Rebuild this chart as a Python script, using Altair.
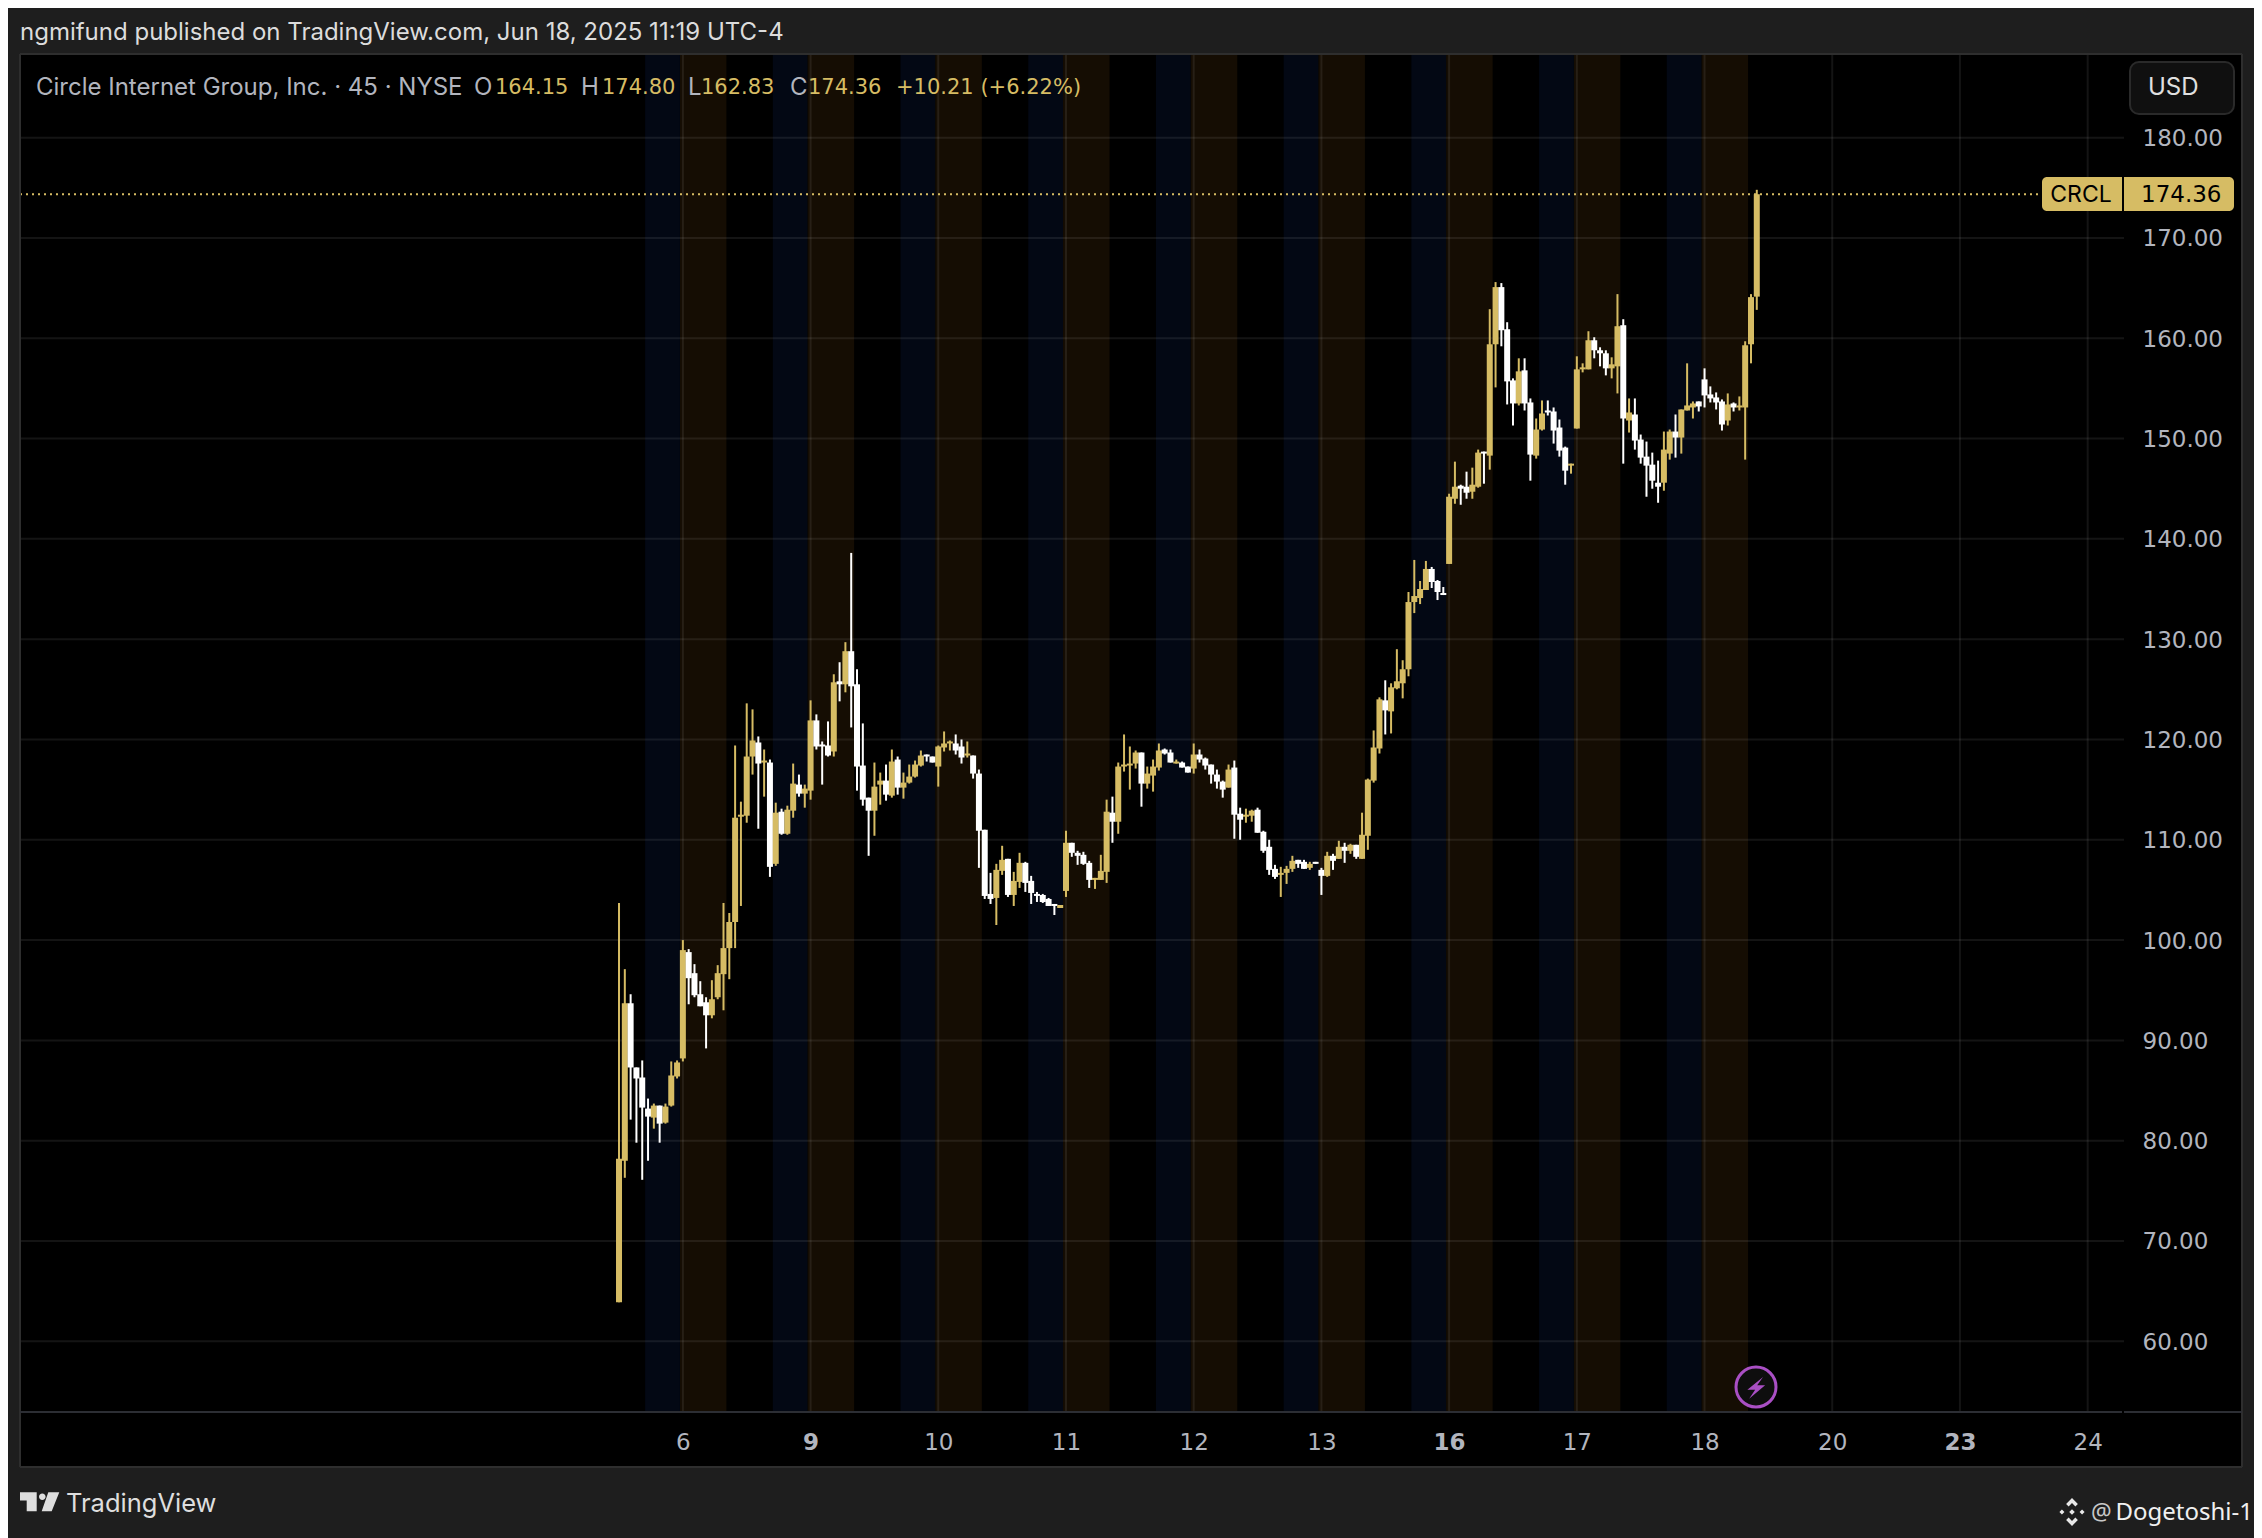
import altair as alt
import pandas as pd

opens = [63.9,78.0,93.7,87.3,86.3,83.2,82.3,83.5,81.8,83.5,86.4,88.2,98.8,96.7,94.6,93.8,92.5,94.3,96.6,99.2,
101.8,112.3,112.4,118.3,119.7,117.7,117.7,107.6,112.8,110.6,112.9,115.5,114.6,114.9,121.9,119.5,119.4,118.8,125.8,125.5,
128.8,125.5,117.4,114.2,112.9,115.5,115.9,114.4,118.0,115.2,115.7,116.3,117.4,118.5,118.3,117.3,119.2,119.6,119.6,119.3,
118.4,118.4,116.6,111.0,104.6,104.2,106.9,108.1,104.5,105.8,107.7,105.9,104.6,104.5,104.1,103.6,103.2,104.9,109.7,108.7,
108.5,107.7,106.0,106.0,106.8,112.7,111.8,117.3,117.4,117.6,118.7,115.6,116.4,117.2,119.0,118.7,117.6,117.7,117.3,117.1,
118.5,118.1,117.5,116.5,115.8,115.2,117.2,112.6,112.3,112.4,113.0,110.8,109.3,107.1,106.5,106.7,107.1,108.0,107.8,107.2,
107.8,107.0,106.4,108.4,108.1,109.3,108.9,109.5,108.1,110.4,115.9,119.1,123.9,122.8,125.1,125.6,127.0,133.7,134.1,134.9,
137.0,135.8,134.6,137.5,144.0,145.3,145.2,144.7,145.2,148.7,148.3,159.4,165.1,160.9,155.8,153.5,156.8,153.6,148.3,150.9,
152.8,152.7,151.1,149.1,147.3,151.0,156.9,156.9,159.8,158.8,158.5,157.0,157.2,161.3,151.8,152.4,149.9,148.2,147.4,145.6,
145.6,148.5,150.7,150.1,152.8,153.1,153.7,155.9,154.4,154.1,153.7,151.8,153.5,153.1,153.1,159.4,164.15]
highs = [103.7,97.1,94.6,87.3,88.0,84.2,83.7,83.5,83.7,87.9,88.0,100.0,99.1,97.6,95.9,94.3,96.0,97.5,103.7,102.7,
119.4,113.8,123.6,123.0,120.3,119.0,118.0,113.7,113.1,113.4,117.6,116.5,115.5,123.9,122.5,119.8,121.8,126.5,127.7,129.7,
138.6,127.0,121.6,114.2,117.7,116.7,117.5,119.0,118.3,116.7,117.5,117.9,118.9,118.5,118.3,119.4,120.8,119.9,120.5,120.0,
119.8,118.4,117.0,111.0,106.7,107.6,109.4,108.1,106.8,108.7,107.8,106.4,104.8,104.6,104.2,103.6,103.5,110.9,109.7,108.9,
108.8,107.9,106.2,108.5,114.0,114.3,117.7,120.5,119.3,118.9,118.7,117.3,118.0,119.6,119.1,119.0,118.0,117.8,117.3,119.6,
119.0,118.2,117.5,117.0,115.9,117.5,117.9,113.2,113.1,113.0,113.2,110.9,110.0,107.5,107.3,107.4,108.4,108.0,108.0,107.8,
107.8,107.2,108.8,108.6,109.9,109.7,109.6,109.5,112.7,116.1,120.9,124.2,125.9,125.6,129.0,127.9,134.7,137.9,135.8,137.8,
137.2,135.9,135.2,144.5,147.7,145.4,146.7,147.1,148.9,148.7,162.9,165.6,165.5,161.6,156.0,158.0,158.0,154.0,152.0,153.8,
153.8,153.1,151.9,149.2,147.5,158.2,157.5,160.7,160.1,159.1,158.8,158.1,164.4,161.9,154.0,154.0,150.4,149.7,148.6,147.8,
150.7,150.9,152.4,152.9,157.5,153.7,153.7,157.0,155.2,154.6,153.9,154.5,153.6,154.2,159.7,164.4,174.80]
lows = [63.9,76.3,82.1,79.8,76.1,78.0,81.2,79.8,81.7,83.4,86.2,87.9,93.6,94.3,93.4,89.2,92.2,94.1,93.0,96.1,
99.2,103.4,111.7,116.5,111.1,114.3,106.3,107.4,110.5,110.5,112.2,114.3,113.2,114.0,119.0,115.5,118.3,118.3,123.8,124.7,
121.2,114.9,113.4,108.4,110.4,113.5,113.9,114.2,114.5,114.1,115.6,116.2,117.3,117.8,117.7,115.3,118.8,118.9,118.5,117.6,
118.2,116.1,107.2,104.1,103.6,101.5,106.5,104.3,103.4,105.2,104.8,103.6,103.8,103.7,103.4,102.5,103.2,104.3,108.3,107.5,
107.5,105.2,105.1,106.0,105.7,109.7,110.6,116.8,115.0,117.1,113.3,115.1,114.8,116.9,118.5,117.7,117.6,117.2,116.7,116.6,
117.7,117.0,115.6,115.1,114.2,115.2,110.1,110.0,111.7,111.8,110.7,108.7,106.5,106.1,104.3,105.6,106.8,107.2,107.1,107.0,
107.6,104.5,106.3,107.0,108.1,107.7,108.6,108.1,108.1,109.0,115.7,118.6,120.5,120.6,125.0,124.1,126.3,132.6,133.5,134.9,
135.1,133.9,134.4,137.5,143.5,143.4,144.0,144.0,145.1,145.5,146.9,155.1,159.2,153.4,151.3,153.3,152.8,145.8,148.0,150.8,
152.3,149.5,148.2,145.4,146.5,151.0,156.6,156.9,158.0,157.2,156.3,156.0,154.5,147.5,150.6,148.9,147.5,144.2,145.0,143.6,
144.8,147.9,148.1,148.5,152.8,152.0,152.7,153.1,153.6,152.9,150.8,151.3,152.7,152.8,147.9,157.5,162.83]
closes = [78.2,93.7,87.3,86.2,83.3,82.4,83.5,81.7,83.4,86.5,87.8,99.0,96.2,94.5,93.4,92.5,94.1,96.7,99.2,101.8,
112.2,112.5,118.3,119.9,117.6,117.9,107.3,112.7,110.6,113.0,115.6,114.6,115.1,121.9,119.3,119.3,118.4,125.7,125.5,128.8,
125.3,117.3,114.0,112.9,115.3,115.9,114.5,117.8,115.2,115.7,116.3,117.5,118.4,118.3,117.7,119.3,119.6,119.8,118.9,118.2,
118.6,116.6,110.9,104.4,104.1,107.0,108.0,104.5,105.9,107.7,105.7,104.7,104.4,103.8,103.4,103.4,103.5,109.7,108.7,108.4,
107.6,106.0,106.2,106.9,112.8,111.8,117.3,117.5,117.6,118.7,115.6,116.6,117.3,118.9,118.6,117.7,117.8,117.2,116.7,118.5,
118.0,117.4,116.5,115.8,115.0,117.0,112.5,112.0,112.5,112.9,110.7,108.9,107.0,106.3,106.7,107.1,107.9,107.6,107.1,107.6,
107.6,106.4,108.4,107.9,109.3,108.9,109.5,108.3,110.5,116.0,119.2,124.0,122.9,125.2,125.8,127.0,133.7,134.3,135.0,137.0,
135.7,134.7,134.4,144.2,145.2,145.0,144.6,145.4,148.6,148.5,159.4,165.1,160.8,155.7,153.5,156.7,153.5,148.4,150.9,152.5,
152.6,150.8,148.8,146.8,147.5,156.9,157.1,159.8,158.8,158.5,157.0,157.4,161.2,152.0,152.6,149.8,148.1,147.3,145.8,145.2,
148.9,150.7,150.1,152.9,153.3,153.5,153.2,154.3,154.0,153.6,151.4,153.4,153.1,153.3,159.3,164.1,174.36]

bar_index = list(range(len(closes)))
premarket_start = [4.5, 26.5, 48.5, 70.5, 92.5, 114.5, 136.5, 158.5, 180.5]
premarket_end = [10.5, 32.5, 54.5, 76.5, 98.5, 120.5, 142.5, 164.5, 186.5]
postmarket_start = premarket_end
postmarket_end = [18.5, 40.5, 62.5, 84.5, 106.5, 128.5, 150.5, 172.5, 194.5]
day_ticks = [11, 33, 55, 77, 99, 121, 143, 165, 187, 209, 231, 253]
day_labels = ["6", "9", "10", "11", "12", "13", "16", "17", "18", "20", "23", "24"]
bold_days = [33, 143, 231]
price_ticks = [60, 70, 80, 90, 100, 110, 120, 130, 140, 150, 160, 170, 180]
last_price = 174.36

GOLD = "#d6bc64"
FONT = "Inter"
NUM = "DejaVu Sans"
W, H = 2104, 1358
OX, OY = 20, 54

xs = alt.Scale(domain=[-103.19, 259.26], nice=False, zero=False, padding=0)
ys = alt.Scale(domain=[52.95, 188.34], nice=False, zero=False, padding=0)

df = pd.DataFrame({"k": bar_index, "o": opens, "h": highs, "l": lows, "c": closes})
df["top"] = df[["o", "c"]].max(axis=1)
df["bot"] = df[["o", "c"]].min(axis=1)
df["dir"] = ["up" if c >= o else "down" for o, c in zip(opens, closes)]
color = alt.Color("dir:N", scale=alt.Scale(domain=["up", "down"], range=[GOLD, "#ffffff"]), legend=None)

label_map = "{" + ",".join(f'"{k}":"{v}"' for k, v in zip(day_ticks, day_labels)) + "}"
bold_test = "||".join(f"datum.value=={k}" for k in bold_days)

x_axis = alt.Axis(
    values=day_ticks, title=None, grid=False, domain=False, ticks=False, zindex=1,
    labelExpr=f"{label_map}[datum.value]", labelFont=NUM, labelFontSize=23,
    labelColor="#b2b5be", labelBaseline="middle", labelPadding=30, labelFlush=False,
    labelOverlap=False,
    labelFontWeight=alt.expr(f"({bold_test}) ? 'bold' : 'normal'"))
y_axis = alt.Axis(
    values=price_ticks, orient="right", title=None, grid=False, domain=False, ticks=False, zindex=1,
    format=".2f", labelFont=NUM, labelFontSize=23, labelColor="#b2b5be",
    labelAlign="left", labelPadding=18, labelOverlap=False, labelOffset=1)


def box(x0, x1, y0, y1, **kw):
    return alt.Chart(pd.DataFrame({"a": [0]})).mark_rect(**kw).encode(
        x=alt.value(x0 - OX), x2=alt.value(x1 - OX), y=alt.value(y0 - OY), y2=alt.value(y1 - OY))


def band(starts, ends, col):
    d = pd.DataFrame({"a": starts, "b": ends})
    return alt.Chart(d).mark_rect(color=col).encode(
        x=alt.X("a:Q", scale=xs, axis=x_axis), x2="b:Q")


panel = box(OX, 2242, 54, 1467, fill="#000000")
bands_pre = band(premarket_start, premarket_end, "#030814")
bands_post = band(postmarket_start, postmarket_end, "#150d03")

grid_x = alt.Chart(pd.DataFrame({"k": day_ticks})).mark_rule(
    color="#ffffff", opacity=0.08, strokeWidth=2).encode(
    x=alt.X("k:Q", scale=xs, axis=x_axis))
grid_y = alt.Chart(pd.DataFrame({"p": price_ticks})).mark_rule(
    color="#ffffff", opacity=0.08, strokeWidth=2).encode(
    y=alt.Y("p:Q", scale=ys, axis=y_axis))

wicks = alt.Chart(df).mark_rule(strokeWidth=2).encode(
    x=alt.X("k:Q", scale=xs, axis=x_axis), y=alt.Y("l:Q", scale=ys, axis=y_axis), y2="h:Q", color=color)
bodies = alt.Chart(df).mark_bar(size=6, orient="vertical").encode(
    x=alt.X("k:Q", scale=xs, axis=x_axis), y=alt.Y("bot:Q", scale=ys, axis=y_axis), y2="top:Q", color=color)

price_line = alt.Chart(pd.DataFrame({"p": [last_price]})).mark_rule(
    color=GOLD, strokeWidth=2, strokeDash=[2, 4]).encode(
    y=alt.Y("p:Q", scale=ys, axis=y_axis), x=alt.value(0), x2=alt.value(2042 - OX))


def text(s, x, y, col, size=23, font=FONT, align="left", weight="normal"):
    return alt.Chart(pd.DataFrame({"t": [s]})).mark_text(
        color=col, fontSize=size, font=font, align=align, baseline="middle", fontWeight=weight).encode(
        x=alt.value(x - OX), y=alt.value(y - OY), text="t:N")


def icon(path, x, y, col, span, **kw):
    return alt.Chart(pd.DataFrame({"a": [0]})).mark_point(
        shape=path, filled=True, color=col, size=span * span, opacity=1, **kw).encode(
        x=alt.value(x - OX), y=alt.value(y - OY))


def hline(x0, x1, y, col, sw=2):
    return alt.Chart(pd.DataFrame({"a": [0]})).mark_rule(color=col, strokeWidth=sw).encode(
        x=alt.value(x0 - OX), x2=alt.value(x1 - OX), y=alt.value(y - OY))


def vline(x, y0, y1, col, sw=2):
    return alt.Chart(pd.DataFrame({"a": [0]})).mark_rule(color=col, strokeWidth=sw).encode(
        x=alt.value(x - OX), y=alt.value(y0 - OY), y2=alt.value(y1 - OY))


BORDER = "#2e2e2e"
borders = [
    hline(OX, 2242, 54, BORDER), hline(OX, 2242, 1467, BORDER),
    vline(OX, 54, 1467, BORDER), vline(2242, 54, 1467, BORDER),
    hline(OX, 2122, 1412, "#2c2e34"), hline(2124, 2242, 1412, "#2c2e34"),
]

tv_logo = ("M-0.975 -0.485 L-0.14 -0.485 L-0.14 0.46 L-0.64 0.46 L-0.64 -0.07 L-0.975 -0.07 Z "
           "M-0.025 -0.265 a0.165 0.165 0 1 0 0.33 0 a0.165 0.165 0 1 0 -0.33 0 Z "
           "M0.44 -0.485 L0.99 -0.485 L0.61 0.46 L0.11 0.46 Z")
bolt = "M0.59 -0.83 L-0.72 0.22 L-0.07 0.22 L-0.57 0.97 L0.76 -0.14 L0.1 -0.14 Z"
binance = ("M0 -1 L0.42 -0.58 L0.24 -0.4 L0 -0.64 L-0.24 -0.4 L-0.42 -0.58 Z "
           "M0 1 L0.42 0.58 L0.24 0.4 L0 0.64 L-0.24 0.4 L-0.42 0.58 Z "
           "M-0.72 -0.18 L-0.54 0 L-0.72 0.18 L-0.9 0 Z M0.72 -0.18 L0.9 0 L0.72 0.18 L0.54 0 Z "
           "M0 -0.2 L0.2 0 L0 0.2 L-0.2 0 Z")

LEG = "#b2b5be"
HDR_Y, LEG_Y = 33, 88
annotations = [
    text("ngmifund published on TradingView.com, Jun 18, 2025 11:19 UTC-4", 20, HDR_Y, "#dcdcdc", 24),
    text("Circle Internet Group, Inc. · 45 · NYSE", 36, LEG_Y, LEG, 24),
    text("O", 474, LEG_Y, LEG, 24), text("164.15", 495, LEG_Y, GOLD, 21, NUM),
    text("H", 581, LEG_Y, LEG, 24), text("174.80", 602, LEG_Y, GOLD, 21, NUM),
    text("L", 688, LEG_Y, LEG, 24), text("162.83", 701, LEG_Y, GOLD, 21, NUM),
    text("C", 790, LEG_Y, LEG, 24), text("174.36", 808, LEG_Y, GOLD, 21, NUM),
    text("+10.21 (+6.22%)", 896, LEG_Y, GOLD, 21, NUM),
    box(2130, 2234, 62, 114, fill="#101010", stroke="#2a2a2a", strokeWidth=2, cornerRadius=9),
    text("USD", 2148, 88, "#e0e0e0", 24),
    box(2042, 2122, 177, 211, fill=GOLD, cornerRadiusTopLeft=5, cornerRadiusBottomLeft=5),
    box(2124, 2234, 177, 211, fill=GOLD, cornerRadiusTopRight=5, cornerRadiusBottomRight=5),
    text("CRCL", 2081, 195, "#000000", 23, align="center"),
    text("174.36", 2141, 195, "#000000", 23, NUM),
    alt.Chart(pd.DataFrame({"a": [0]})).mark_point(
        shape="circle", size=1600, fill="#0e0e0e", stroke="#a94fc4", strokeWidth=3, opacity=1).encode(
        x=alt.value(1756 - OX), y=alt.value(1387 - OY)),
    icon(bolt, 1756, 1387, "#a94fc4", 24),
    icon(tv_logo, 39.5, 1502, "#dedede", 40),
    text("TradingView", 66, 1504, "#dedede", 25.5),
    icon(binance, 2072, 1512, "#e8e8e8", 28),
    text("@", 2091, 1513, "#c8c8c8", 23, font="Noto Sans"),
    text("Dogetoshi-1", 2253, 1513, "#f0f0f0", 24, font="Noto Sans", align="right"),
]

layers = [panel, bands_pre, bands_post, grid_x, grid_y, wicks, bodies, price_line] + borders + annotations

chart = alt.layer(*layers).properties(
    width=W, height=H,
    background="#1e1e1e",
    autosize=alt.AutoSizeParams(type="none"),
    padding={"left": OX - 8, "top": OY - 8, "right": 2254 - OX - W, "bottom": 1538 - OY - H},
).configure_view(fill="#000000", stroke=None)

chart.save("out.html", embed_options={"renderer": "svg", "actions": False})
